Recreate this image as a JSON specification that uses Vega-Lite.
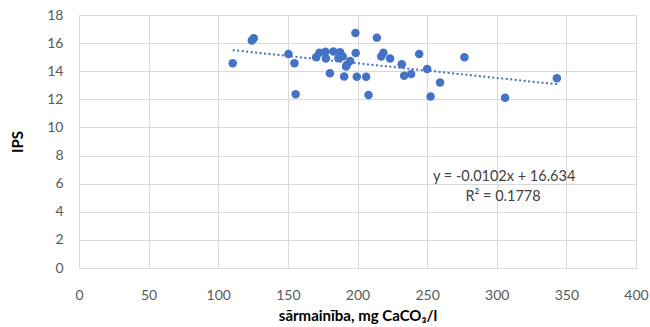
{
  "$schema": "https://vega.github.io/schema/vega-lite/v6.json",
  "width": 557,
  "height": 253,
  "autosize": "none",
  "padding": {"left": 79, "top": 15, "right": 14, "bottom": 59},
  "background": "white",
  "config": {
    "view": {"stroke": null},
    "font": "Lato",
    "axis": {
      "grid": true,
      "gridColor": "#d9d9d9",
      "gridWidth": 1,
      "domain": false,
      "ticks": false,
      "labelFlush": false,
      "labelOverlap": false,
      "labelFont": "Lato",
      "labelFontSize": 14,
      "labelColor": "#595959",
      "titleFont": "Lato",
      "titleFontSize": 15,
      "titleFontWeight": "bold",
      "titleColor": "#000000"
    }
  },
  "datasets": {
    "pts": [
      {"x": 110.4, "IPS": 14.57},
      {"x": 124.1, "IPS": 16.18},
      {"x": 125.5, "IPS": 16.35},
      {"x": 150.4, "IPS": 15.23},
      {"x": 154.7, "IPS": 14.57},
      {"x": 155.6, "IPS": 12.37},
      {"x": 170.3, "IPS": 15.0},
      {"x": 172.6, "IPS": 15.32},
      {"x": 177.0, "IPS": 15.38},
      {"x": 177.3, "IPS": 14.9},
      {"x": 180.2, "IPS": 13.85},
      {"x": 182.7, "IPS": 15.4},
      {"x": 187.5, "IPS": 15.35},
      {"x": 186.3, "IPS": 14.93},
      {"x": 189.4, "IPS": 15.04},
      {"x": 190.4, "IPS": 13.62},
      {"x": 191.8, "IPS": 14.33},
      {"x": 192.3, "IPS": 14.45},
      {"x": 194.7, "IPS": 14.73},
      {"x": 198.5, "IPS": 16.72},
      {"x": 198.7, "IPS": 15.3},
      {"x": 199.5, "IPS": 13.6},
      {"x": 206.2, "IPS": 13.6},
      {"x": 207.9, "IPS": 12.3},
      {"x": 213.9, "IPS": 16.39},
      {"x": 217.0, "IPS": 15.04},
      {"x": 218.6, "IPS": 15.32},
      {"x": 223.4, "IPS": 14.9},
      {"x": 231.8, "IPS": 14.5},
      {"x": 233.5, "IPS": 13.67},
      {"x": 238.5, "IPS": 13.81},
      {"x": 244.3, "IPS": 15.23},
      {"x": 250.0, "IPS": 14.15},
      {"x": 252.5, "IPS": 12.2},
      {"x": 259.3, "IPS": 13.19},
      {"x": 276.8, "IPS": 15.0},
      {"x": 306.0, "IPS": 12.12},
      {"x": 343.2, "IPS": 13.5}
    ],
    "labels": [
      {"x": 305.3, "IPS": 6.5, "text": "y = -0.0102x + 16.634"},
      {"x": 304.5, "IPS": 5.07, "text": "R² = 0.1778"}
    ]
  },
  "encoding": {
    "x": {
      "field": "x",
      "type": "quantitative",
      "scale": {"domain": [0, 400], "nice": false},
      "axis": {
        "values": [0, 50, 100, 150, 200, 250, 300, 350, 400],
        "title": "sārmainība, mg CaCO₃/l",
        "labelPadding": 20,
        "titlePadding": 6,
        "labelOverlap": false
      }
    },
    "y": {
      "field": "IPS",
      "type": "quantitative",
      "scale": {"domain": [0, 18], "nice": false},
      "axis": {
        "values": [0, 2, 4, 6, 8, 10, 12, 14, 16, 18],
        "title": "IPS",
        "labelPadding": 16,
        "titlePadding": 21,
        "labelOverlap": false
      }
    }
  },
  "layer": [
    {
      "data": {"name": "pts"},
      "transform": [{"regression": "IPS", "on": "x"}],
      "mark": {"type": "line", "color": "#4472C4", "strokeWidth": 2, "strokeDash": [2, 2.5]}
    },
    {
      "data": {"name": "pts"},
      "mark": {"type": "circle", "size": 72, "color": "#4472C4", "opacity": 1}
    },
    {
      "data": {"name": "labels"},
      "mark": {"type": "text", "font": "Lato", "fontSize": 14.5, "color": "#404040", "align": "center", "baseline": "middle"},
      "encoding": {
        "text": {"field": "text"}
      }
    }
  ]
}
